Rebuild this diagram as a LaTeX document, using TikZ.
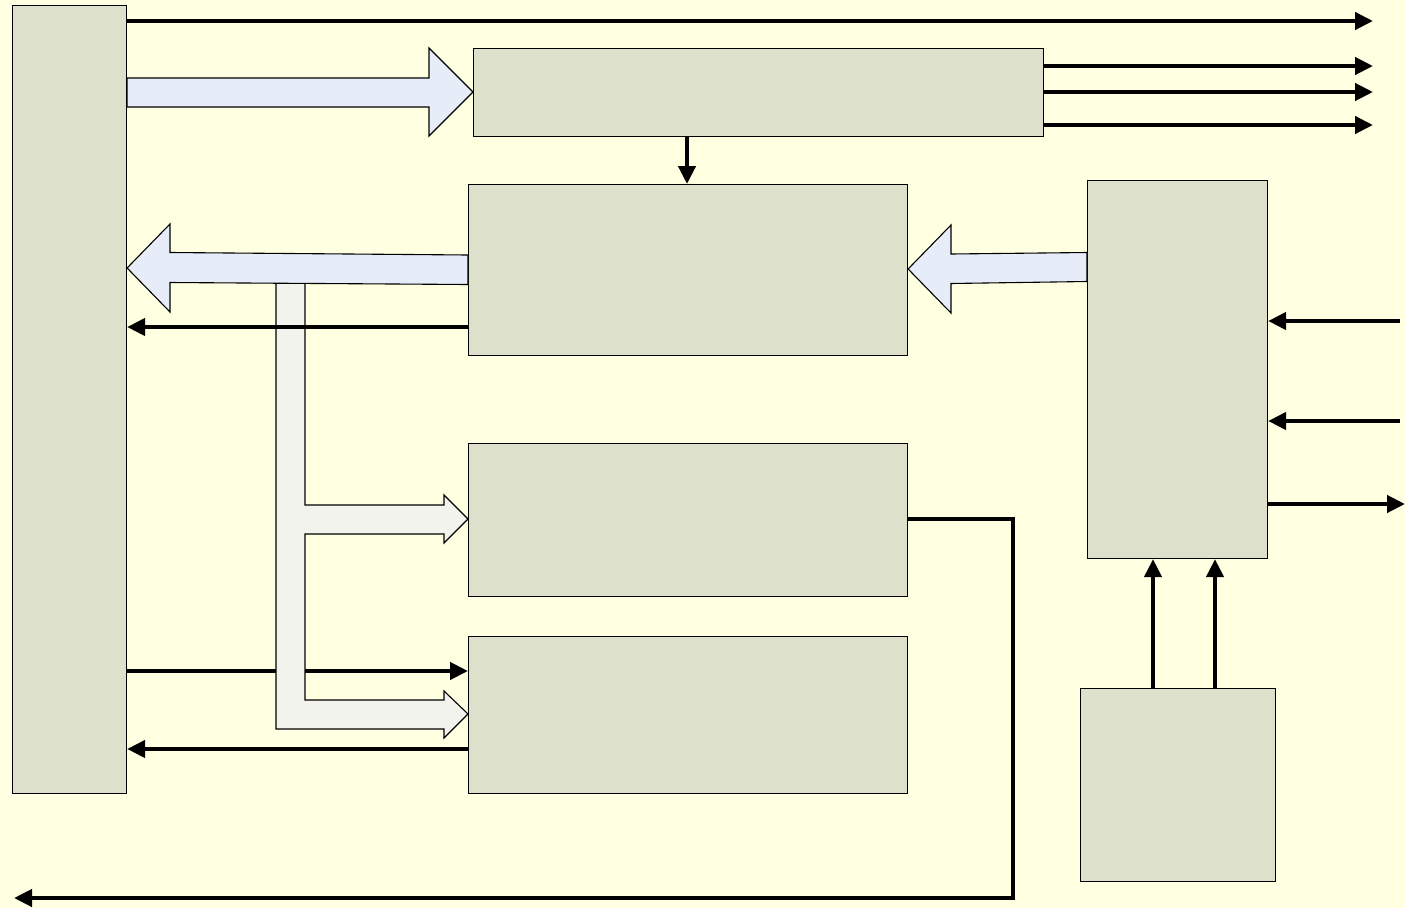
\documentclass[tikz,border=0pt]{standalone}
\usetikzlibrary{arrows.meta}
\definecolor{paper}{RGB}{255,255,225}
\definecolor{blockfill}{RGB}{221,224,203}
\definecolor{busblue}{RGB}{230,236,248}
\definecolor{busgray}{RGB}{242,243,236}
\begin{document}
\begin{tikzpicture}[x=1pt,y=-1pt,
  block/.style={draw=black,line width=1.1pt,fill=blockfill,inner sep=0pt,anchor=north west},
  sig/.style={line width=4.2pt,-{Triangle[length=18pt,width=17pt]}},
  fatblue/.style={draw=black,line width=1.1pt,fill=busblue,line join=miter},
  fatgray/.style={draw=black,line width=1.1pt,fill=busgray,line join=miter}]
  % canvas
  \fill[paper] (0,0) rectangle (1405,908);
  \useasboundingbox (0,0) rectangle (1405,908);

  % blocks
  \node[block,minimum width=114pt,minimum height=788pt] (L)  at (12,5)    {};
  \node[block,minimum width=570pt,minimum height=88pt]  (T)  at (473,48)  {};
  \node[block,minimum width=439pt,minimum height=171pt] (M1) at (468,184) {};
  \node[block,minimum width=439pt,minimum height=153pt] (M2) at (468,443) {};
  \node[block,minimum width=439pt,minimum height=157pt] (M3) at (468,636) {};
  \node[block,minimum width=180pt,minimum height=378pt] (R)  at (1087,180){};
  \node[block,minimum width=195pt,minimum height=193pt] (RB) at (1080,688){};

  % free ends of the external signals
  \coordinate (o1) at (1373,21);
  \coordinate (o2) at (1373,66);
  \coordinate (o3) at (1373,92);
  \coordinate (o4) at (1373,125);
  \coordinate (i1) at (1400,321);
  \coordinate (i2) at (1400,421);
  \coordinate (o5) at (1405,504);
  \coordinate (bend1) at (1013,519);
  \coordinate (bend2) at (1013,898);
  \coordinate (o6) at (14,898);

  % line from the left block into the lower block (passes under the bus)
  \draw[sig] (L.east |- 0,671) -- (M3.west |- 0,671);

  % gray bus feeding the two lower blocks
  \draw[fatgray] (276,283) -- (276,729) -- (444,729) -- (444,738) -- (M3.west |- 0,714)
    -- (444,691) -- (444,700) -- (305,700) -- (305,534) -- (444,534) -- (444,543)
    -- (M2.west |- 0,519) -- (444,495) -- (444,505) -- (305,505) -- (305,283) -- cycle;

  % wide arrows
  \draw[fatblue] (L.east |- 0,78) -- (429,78) -- (429,48) -- (T.west |- 0,92)
    -- (429,136) -- (429,107) -- (L.east |- 0,107) -- cycle;
  \draw[fatblue] (M1.west |- 0,255) -- (170,252.5) -- (170,224) -- (L.east |- 0,268)
    -- (170,312) -- (170,282.5) -- (M1.west |- 0,284.5) -- cycle;
  \draw[fatblue] (R.west |- 0,252.5) -- (951,254) -- (951,225) -- (M1.east |- 0,269)
    -- (951,313) -- (951,283.5) -- (R.west |- 0,281.5) -- cycle;

  % single signals
  \draw[sig] (L.east |- o1) -- (o1);
  \draw[sig] (T.east |- o2) -- (o2);
  \draw[sig] (T.east |- o3) -- (o3);
  \draw[sig] (T.east |- o4) -- (o4);
  \draw[sig] (T.south -| 687,0) -- (M1.north -| 687,0);
  \draw[sig] (M1.west |- 0,327) -- (L.east |- 0,327);
  \draw[sig] (M3.west |- 0,749) -- (L.east |- 0,749);
  \draw[sig] (i1) -- (R.east |- i1);
  \draw[sig] (i2) -- (R.east |- i2);
  \draw[sig] (R.east |- o5) -- (o5);
  \draw[sig] (RB.north -| 1153,0) -- (R.south -| 1153,0);
  \draw[sig] (RB.north -| 1215,0) -- (R.south -| 1215,0);
  \draw[sig,line join=miter] (M2.east |- bend1) -- (bend1) -- (bend2) -- (o6);
\end{tikzpicture}
\end{document}
